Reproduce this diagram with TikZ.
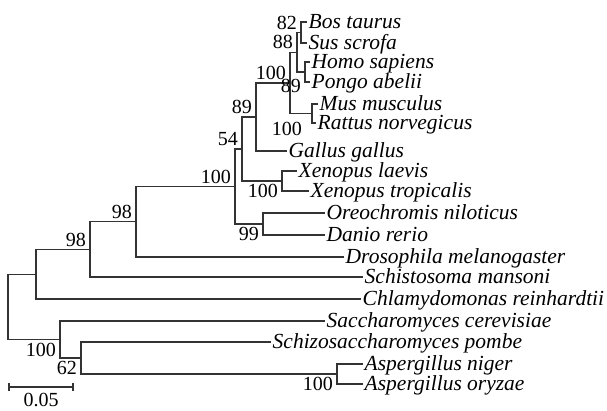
\documentclass[tikz,border=0pt]{standalone}
\usepackage{fontspec}
\setmainfont{Liberation Serif}

\begin{document}
\begin{tikzpicture}[
      x=1pt, y=-1pt,
      branch/.style={draw=black!80, line width=1.3pt},
      taxon/.style={anchor=west, inner xsep=1.5pt, inner ysep=0pt, text height=15pt, text depth=2.3pt,
                    font=\fontsize{21.5}{22}\selectfont\itshape},
      bsup/.style={above left, inner xsep=4pt, inner ysep=3pt, font=\fontsize{20}{20}\selectfont},
      bsdown/.style={below left, inner xsep=4pt, inner ysep=3pt, font=\fontsize{20}{20}\selectfont}
    ]

    \useasboundingbox (0,0) rectangle (607,410);

    % ---- scale bar height ----
    \def\ybar{387}

    % ================= taxa =================
    \node[taxon] (bos)     at (307,22)  {Bos taurus};
    \node[taxon] (sus)     at (307,43)  {Sus scrofa};
    \node[taxon] (homo)    at (310,62)  {Homo sapiens};
    \node[taxon] (pongo)   at (310,82)  {Pongo abelii};
    \node[taxon] (mus)     at (318,104) {Mus musculus};
    \node[taxon] (rattus)  at (316,123) {Rattus norvegicus};
    \node[taxon] (gallus)  at (287,151) {Gallus gallus};
    \node[taxon] (xlae)    at (297,171) {Xenopus laevis};
    \node[taxon] (xtro)    at (309,191) {Xenopus tropicalis};
    \node[taxon] (oreo)    at (325,213) {Oreochromis niloticus};
    \node[taxon] (danio)   at (325,235) {Danio rerio};
    \node[taxon] (droso)   at (344,257) {Drosophila melanogaster};
    \node[taxon] (schisto) at (363,277) {Schistosoma mansoni};
    \node[taxon] (chlamy)  at (361,299) {Chlamydomonas reinhardtii};
    \node[taxon] (scer)    at (325,321) {Saccharomyces cerevisiae};
    \node[taxon] (spom)    at (271,342) {Schizosaccharomyces pombe};
    \node[taxon] (anig)    at (363,364) {Aspergillus niger};
    \node[taxon] (aory)    at (363,384) {Aspergillus oryzae};

    % ================= internal nodes =================
    \coordinate (nBS)  at (301,32.5);
    \coordinate (nHP)  at (305,72);
    \coordinate (nH)   at (297,52.2);
    \coordinate (nMR)  at (312,113.5);
    \coordinate (nG)   at (290,82.9);
    \coordinate (nF)   at (256,117);
    \coordinate (nX)   at (282,181);
    \coordinate (nE)   at (242,149);
    \coordinate (nOD)  at (263,224);
    \coordinate (nD)   at (235,186.5);
    \coordinate (nC)   at (136,221.7);
    \coordinate (nB)   at (90,249.4);
    \coordinate (nA)   at (36,274.2);
    \coordinate (nAsp) at (337,374);
    \coordinate (n62)  at (81,358);
    \coordinate (nFun) at (60,339.5);
    \coordinate (root) at (8,306.8);

    % ================= branches =================
    \draw[branch] (nBS) |- (bos.west)    (nBS) |- (sus.west);
    \draw[branch] (nHP) |- (homo.west)   (nHP) |- (pongo.west);
    \draw[branch] (nH)  |- (nBS)         (nH)  |- (nHP);
    \draw[branch] (nMR) |- (mus.west)    (nMR) |- (rattus.west);
    \draw[branch] (nG)  |- (nH)          (nG)  |- (nMR);
    \draw[branch] (nF)  |- (nG)          (nF)  |- (gallus.west);
    \draw[branch] (nX)  |- (xlae.west)   (nX)  |- (xtro.west);
    \draw[branch] (nE)  |- (nF)          (nE)  |- (nX);
    \draw[branch] (nOD) |- (oreo.west)   (nOD) |- (danio.west);
    \draw[branch] (nD)  |- (nE)          (nD)  |- (nOD);
    \draw[branch] (nC)  |- (nD)          (nC)  |- (droso.west);
    \draw[branch] (nB)  |- (nC)          (nB)  |- (schisto.west);
    \draw[branch] (nA)  |- (nB)          (nA)  |- (chlamy.west);
    \draw[branch] (nAsp) |- (anig.west)  (nAsp) |- (aory.west);
    \draw[branch] (n62) |- (spom.west)   (n62) |- (nAsp);
    \draw[branch] (nFun) |- (scer.west)  (nFun) |- (n62);
    \draw[branch] (root) |- (nA)         (root) |- (nFun);

    % ================= bootstrap values =================
    \node[bsup] at (nBS) {82};
    \node[bsup] at (nH)  {88};
    \node[bsdown, yshift=-4pt] at (nHP) {89};
    \node[bsup] at (nG)  {100};
    \node[bsdown, xshift=-6pt, yshift=-5pt] at (nMR) {100};
    \node[bsup] at (nF)  {89};
    \node[bsup] at (nE)  {54};
    \node[bsdown] at (nX)  {100};
    \node[bsup] at (nD)  {100};
    \node[bsdown] at (nOD) {99};
    \node[bsup] at (nC)  {98};
    \node[bsup] at (nB)  {98};
    \node[bsdown] at (nFun) {100};
    \node[bsdown] at (n62)  {62};
    \node[bsdown] at (nAsp) {100};

    % ================= scale bar =================
    \coordinate (sbL) at (9,\ybar);
    \coordinate (sbR) at (73,\ybar);
    \draw[branch] (sbL) -- (sbR);
    \draw[branch] ([yshift=4pt]sbL) -- ([yshift=-4pt]sbL);
    \draw[branch] ([yshift=4pt]sbR) -- ([yshift=-4pt]sbR);
    \node[anchor=north, inner sep=0pt, font=\fontsize{20}{20}\selectfont] (sblabel) at (41,393) {0.05};

    \end{tikzpicture}
\end{document}
